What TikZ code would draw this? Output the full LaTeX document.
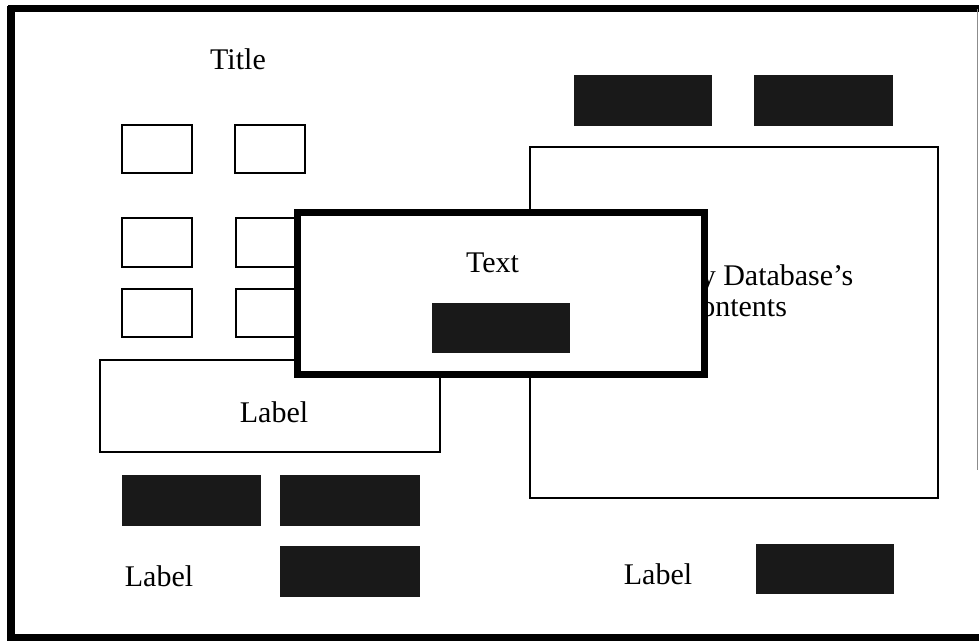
\documentclass[tikz,border=0pt]{standalone}
\usepackage{fontspec}
\setmainfont{Liberation Serif}
\begin{document}
\begin{tikzpicture}[x=0.75pt,y=-0.75pt,
  lbl/.style={inner sep=0pt, font=\fontsize{22.5}{27}\selectfont},
  smallbox/.style={draw=black, line width=1.5pt},
  thinbox/.style={draw=black, line width=1.2pt},
  darkbox/.style={fill=black!90, draw=none},
  heavybox/.style={draw=black, fill=white, line width=5.25pt}]
\useasboundingbox (0,0) rectangle (979,641);

% outer frame
\draw[line width=6pt] (11,6) -- (11,641);
\draw[line width=5.25pt] (8,9) -- (979,9);
\draw[line width=5.25pt] (8,637.5) -- (979,637.5);
\draw[black!45, line width=0.75pt] (977.5,9) -- (977.5,470);

% title and button grid
\node[lbl, anchor=base] (title) at (238,70) {Title};
\draw[smallbox] (122,125) rectangle (192,173);
\draw[smallbox] (235,125) rectangle (305,173);
\draw[smallbox] (122,218) rectangle (192,267);
\draw[smallbox] (236,218) rectangle (306,267);
\draw[smallbox] (122,289) rectangle (192,337);
\draw[smallbox] (236,289) rectangle (306,337);

% label panel
\draw[thinbox] (100,360) rectangle (440,452);
\node[lbl, anchor=base] (panellabel) at (274,423) {Label};

% contents panel
\draw[thinbox, line width=1.5pt] (529.5,147) rectangle (938,498);
\node[lbl, anchor=base west] (dbline1) at (700.5,286) {y Database's};
\node[lbl, anchor=base west] (dbline2) at (700,317) {ontents};

% top right blocks
\fill[darkbox] (574,75) rectangle (712,126);
\fill[darkbox] (754,75) rectangle (893,126);

% bottom blocks
\fill[darkbox] (122,475) rectangle (261,526);
\fill[darkbox] (280,475) rectangle (420,526);
\fill[darkbox] (280,546) rectangle (420,597);
\node[lbl, anchor=base] (leftlabel) at (159,587) {Label};
\fill[darkbox] (756,544) rectangle (894,594);
\node[lbl, anchor=base] (rightlabel) at (658,585) {Label};

% overlay dialog
\draw[heavybox] (297.5,212.5) rectangle (704.5,374.5);
\node[lbl, anchor=base] (dialogtext) at (492.5,273) {Text};
\fill[darkbox] (432,303) rectangle (570,353);
\end{tikzpicture}
\end{document}
